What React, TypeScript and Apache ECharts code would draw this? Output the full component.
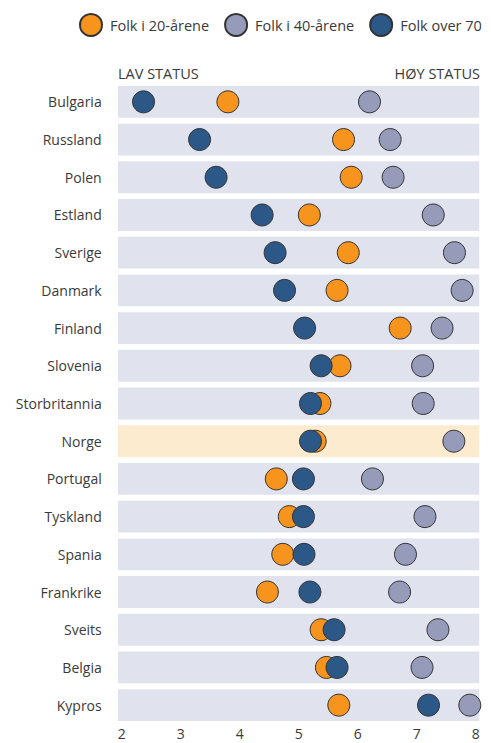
import React, { useEffect, useRef } from "react";
import * as echarts from "echarts";

const countries = [
  "Bulgaria", "Russland", "Polen", "Estland", "Sverige", "Danmark", "Finland",
  "Slovenia", "Storbritannia", "Norge", "Portugal", "Tyskland", "Spania",
  "Frankrike", "Sveits", "Belgia", "Kypros",
];
const highlighted = "Norge";
const folk20 = [3.8, 5.76, 5.89, 5.18, 5.84, 5.65, 6.72, 5.7, 5.36, 5.28, 4.62, 4.84, 4.73, 4.47, 5.38, 5.47, 5.68];
const folk40 = [6.2, 6.55, 6.6, 7.28, 7.64, 7.77, 7.43, 7.1, 7.11, 7.63, 6.25, 7.14, 6.81, 6.71, 7.36, 7.09, 7.9];
const folk70 = [2.37, 3.32, 3.6, 4.38, 4.6, 4.76, 5.1, 5.38, 5.2, 5.2, 5.08, 5.08, 5.09, 5.19, 5.6, 5.65, 7.2];
const seriesNames = ["Folk i 20-årene", "Folk i 40-årene", "Folk over 70"];
const xTicks = [2, 3, 4, 5, 6, 7, 8];

const FONT = "'Open Sans', sans-serif";
const TEXT = "#3a3a3a";

export default function App() {
  const ref = useRef<HTMLDivElement>(null);
  useEffect(() => {
    if (!ref.current) return;
    const chart = echarts.init(ref.current, null, { renderer: "svg" });
    const dot = (name: string, vals: number[], color: string) => ({
      name,
      type: "scatter",
      symbol: "circle",
      symbolSize: 22,
      z: 5,
      itemStyle: { color, borderColor: "#333", borderWidth: 1, opacity: 1 },
      data: vals.map((v, i) => [v, i]),
    });
    chart.setOption({
      animation: false,
      textStyle: { fontFamily: FONT },
      legend: {
        data: seriesNames,
        top: 13,
        left: 79,
        padding: 0,
        itemWidth: 22,
        itemHeight: 22,
        itemGap: 15,
        icon: "circle",
        textStyle: { fontFamily: FONT, fontSize: 14.5, color: TEXT, padding: [0, 0, 0, 3] },
      },
      grid: { left: 121.7, right: 15.3, top: 83, bottom: 19, containLabel: false },
      xAxis: {
        type: "value",
        min: xTicks[0],
        max: xTicks[xTicks.length - 1],
        interval: 1,
        splitLine: { show: false },
        axisLine: { show: false },
        axisTick: { show: false },
        axisLabel: { fontFamily: FONT, fontSize: 14, lineHeight: 14, color: TEXT, margin: 2 },
      },
      yAxis: {
        type: "category",
        data: countries,
        inverse: true,
        axisLine: { show: false },
        axisTick: { show: false },
        splitLine: { show: false },
        axisLabel: { fontFamily: FONT, fontSize: 14, color: TEXT, margin: 20 },
      },
      graphic: [
        { type: "text", left: 118, top: 66, style: { text: "LAV STATUS", fontFamily: FONT, fontSize: 14.5, fill: TEXT } },
        { type: "text", right: 11, top: 66, style: { text: "HØY STATUS", fontFamily: FONT, fontSize: 14.5, fill: TEXT } },
      ],
      series: [
        {
          type: "custom",
          silent: true,
          clip: false,
          z: 1,
          data: countries.map((c, i) => [i, c === highlighted ? 1 : 0]),
          encode: { y: 0 },
          renderItem: (params: any, api: any) => {
            const idx = api.value(0);
            const p0 = api.coord([xTicks[0], idx]);
            const p1 = api.coord([xTicks[xTicks.length - 1], idx]);
            const h = api.size([0, 1])[1] * 0.845;
            return {
              type: "rect",
              shape: { x: p0[0] - 3.7, y: p0[1] - h / 2, width: p1[0] - p0[0] + 7.2, height: h },
              style: { fill: api.value(1) ? "#FDEBD0" : "#E0E2EE" },
            };
          },
        },
        dot(seriesNames[0], folk20, "#F7941D"),
        dot(seriesNames[1], folk40, "#959BB9"),
        dot(seriesNames[2], folk70, "#2B5887"),
      ],
    });
    return () => chart.dispose();
  }, []);
  return <div ref={ref} style={{ width: 491, height: 743, position: "absolute", left: 0, top: 0 }} />;
}
